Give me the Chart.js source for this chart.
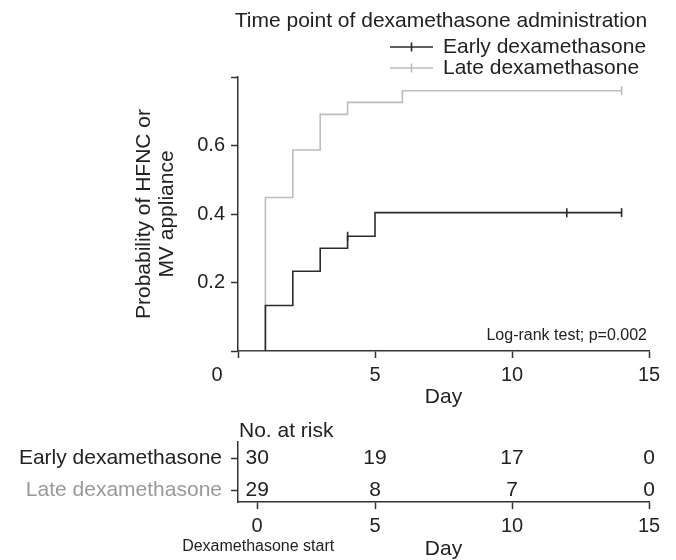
<!DOCTYPE html>
<html>
<head>
<meta charset="utf-8">
<script src="https://cdn.jsdelivr.net/npm/chart.js@4"></script>
<style>
  body { margin: 0; background: #fff; }
  #wrap { position: relative; width: 676px; height: 560px; }
  canvas { position: absolute; left: 0; }
  #km { top: 0; }
  #risk { top: 400px; }
</style>
</head>
<body>
<div id="wrap">
  <canvas id="km" width="676" height="410"></canvas>
  <canvas id="risk" width="676" height="160"></canvas>
</div>
<script>
const FONT = "'Liberation Sans', Arial, Helvetica, sans-serif";
Chart.defaults.font.family = FONT;
Chart.defaults.color = '#222';

// groups
const groupNames = ['Early dexamethasone', 'Late dexamethasone'];
const groupColors = ['#2b2b2b', '#bdbdbd'];
const groupTextColors = ['#222222', '#999999'];

// cumulative probability curves (step at each day)
const earlyDays = [0, 1, 2, 3, 4, 5, 14];
const earlyProb = [0, 0.133, 0.233, 0.300, 0.335, 0.404, 0.404];
const lateDays = [0, 1, 2, 3, 4, 6, 14];
const lateProb = [0, 0.448, 0.587, 0.691, 0.726, 0.760, 0.760];

// censored observations
const earlyCensorDays = [4, 12, 14];
const earlyCensorProb = [0.335, 0.404, 0.404];
const lateCensorDays = [14];
const lateCensorProb = [0.760];

// axes
const xTicks = [0, 5, 10, 15];
const yTicks = [0, 0.2, 0.4, 0.6, 0.8];
const yTickLabels = ['', '0.2', '0.4', '0.6', ''];

// number at risk
const riskDays = [0, 5, 10, 15];
const riskEarly = [30, 19, 17, 0];
const riskLate = [29, 8, 7, 0];
const START_SHIFT = 0.7; // first column sits a bit right of day 0 in the table

const pts = (xs, ys) => xs.map((x, i) => ({ x: x, y: ys[i] }));

const axisColor = '#333';

const kmExtras = {
  id: 'kmExtras',
  afterDraw(chart) {
    const { ctx, chartArea: a, scales: { x } } = chart;
    ctx.save();
    ctx.fillStyle = '#222';
    ctx.textBaseline = 'middle';
    // legend
    ctx.font = '21px ' + FONT;
    ctx.textAlign = 'center';
    ctx.fillText('Time point of dexamethasone administration', 441, 21);
    ctx.textAlign = 'left';
    groupNames.forEach((name, i) => {
      const y = 47 + i * 21;
      ctx.strokeStyle = groupColors[i];
      ctx.lineWidth = 1.6;
      ctx.beginPath();
      ctx.moveTo(390, y); ctx.lineTo(433, y);
      ctx.moveTo(411.5, y - 4.5); ctx.lineTo(411.5, y + 4.5);
      ctx.stroke();
      ctx.fillText(name, 443, y);
    });
    // test result
    ctx.font = '16px ' + FONT;
    ctx.textAlign = 'right';
    ctx.fillText('Log-rank test; p=0.002', a.right - 2, a.bottom - 15);
    // origin label sits left of the corner
    ctx.font = '20px ' + FONT;
    ctx.textAlign = 'center';
    ctx.fillText('0', x.getPixelForValue(0) - 21, 375);
    ctx.restore();
  }
};

new Chart(document.getElementById('km'), {
  type: 'scatter',
  data: {
    datasets: [
      { data: pts(earlyDays, earlyProb), showLine: true, stepped: 'before',
        borderColor: groupColors[0], borderWidth: 1.6, pointRadius: 0 },
      { data: pts(earlyCensorDays, earlyCensorProb), pointStyle: 'line', pointRotation: 90,
        pointRadius: 4.5, pointBorderColor: groupColors[0], pointBorderWidth: 1.6 },
      { data: pts(lateDays, lateProb), showLine: true, stepped: 'before',
        borderColor: groupColors[1], borderWidth: 1.6, pointRadius: 0 },
      { data: pts(lateCensorDays, lateCensorProb), pointStyle: 'line', pointRotation: 90,
        pointRadius: 4.5, pointBorderColor: groupColors[1], pointBorderWidth: 1.6 }
    ]
  },
  options: {
    responsive: false,
    animation: false,
    layout: { padding: { top: 77, right: 27, left: 0, bottom: 0 } },
    plugins: { legend: { display: false }, tooltip: { enabled: false } },
    scales: {
      x: {
        type: 'linear', min: 0, max: 15,
        afterBuildTicks: s => { s.ticks = xTicks.map(v => ({ value: v })); },
        ticks: { font: { size: 20 }, padding: 5, color: '#222',
                 callback: v => (v === 0 ? '' : String(v)) },
        grid: { drawOnChartArea: false, tickLength: 7, tickColor: axisColor, tickWidth: 1.5 },
        border: { color: axisColor, width: 1.5 },
        title: { display: true, text: 'Day', color: '#222',
                 font: { size: 21, lineHeight: 1 }, padding: { top: 0, bottom: 2.5 } },
        afterFit: s => { s.height = 59; }
      },
      y: {
        type: 'linear', min: 0, max: 0.8,
        afterBuildTicks: s => { s.ticks = yTicks.map(v => ({ value: v })); },
        ticks: { font: { size: 20 }, padding: 6, color: '#222',
                 callback: (v, i) => yTickLabels[i] },
        grid: { drawOnChartArea: false, tickLength: 7, tickColor: axisColor, tickWidth: 1.5 },
        border: { color: axisColor, width: 1.5 },
        title: { display: true, text: ['Probability of HFNC or', 'MV appliance'], color: '#222',
                 font: { size: 21, lineHeight: 1.07 }, padding: { top: 133, bottom: 0 } },
        afterFit: s => { s.width = 238; }
      }
    }
  },
  plugins: [kmExtras]
});

// number-at-risk table
const riskExtras = {
  id: 'riskExtras',
  afterDraw(chart) {
    const { ctx, chartArea: a, scales: { x, y } } = chart;
    ctx.save();
    ctx.fillStyle = '#222';
    ctx.textBaseline = 'middle';
    ctx.font = '21px ' + FONT;
    ctx.textAlign = 'center';
    [riskEarly, riskLate].forEach((row, r) => {
      row.forEach((n, i) => {
        ctx.fillText(String(n), x.getPixelForValue(x.ticks[i].value), y.getPixelForValue(r));
      });
    });
    ctx.textAlign = 'left';
    ctx.fillText('No. at risk', a.left + 1, a.top - 11);
    ctx.font = '16px ' + FONT;
    ctx.textAlign = 'center';
    ctx.fillText('Dexamethasone start', x.getPixelForValue(x.ticks[0].value) + 1, a.bottom + 45);
    ctx.restore();
  }
};

new Chart(document.getElementById('risk'), {
  type: 'scatter',
  data: { datasets: [] },
  options: {
    responsive: false,
    animation: false,
    layout: { padding: { top: 42, right: 27, left: 0, bottom: 0 } },
    plugins: { legend: { display: false }, tooltip: { enabled: false } },
    scales: {
      x: {
        type: 'linear', min: 0, max: 15,
        afterBuildTicks: s => {
          s.ticks = riskDays.map((d, i) => ({ value: i === 0 ? d + START_SHIFT : d }));
        },
        ticks: { font: { size: 20 }, padding: 5, color: '#222',
                 callback: (v, i) => String(riskDays[i]) },
        grid: { drawOnChartArea: false, tickLength: 7, tickColor: axisColor, tickWidth: 1.5 },
        border: { color: axisColor, width: 1.5 },
        title: { display: true, text: 'Day', color: '#222',
                 font: { size: 21, lineHeight: 1 }, padding: { top: 0, bottom: 0 } },
        afterFit: s => { s.height = 58; }
      },
      y: {
        type: 'linear', reverse: true, min: -0.5, max: 1.375,
        afterBuildTicks: s => { s.ticks = groupNames.map((n, i) => ({ value: i })); },
        ticks: { font: { size: 21 }, padding: 9,
                 color: c => groupTextColors[c.index],
                 callback: (v, i) => groupNames[i] },
        grid: { drawOnChartArea: false, tickLength: 7, tickColor: axisColor, tickWidth: 1.5 },
        border: { color: axisColor, width: 1.5 },
        afterFit: s => { s.width = 238; }
      }
    }
  },
  plugins: [riskExtras]
});
</script>
</body>
</html>
